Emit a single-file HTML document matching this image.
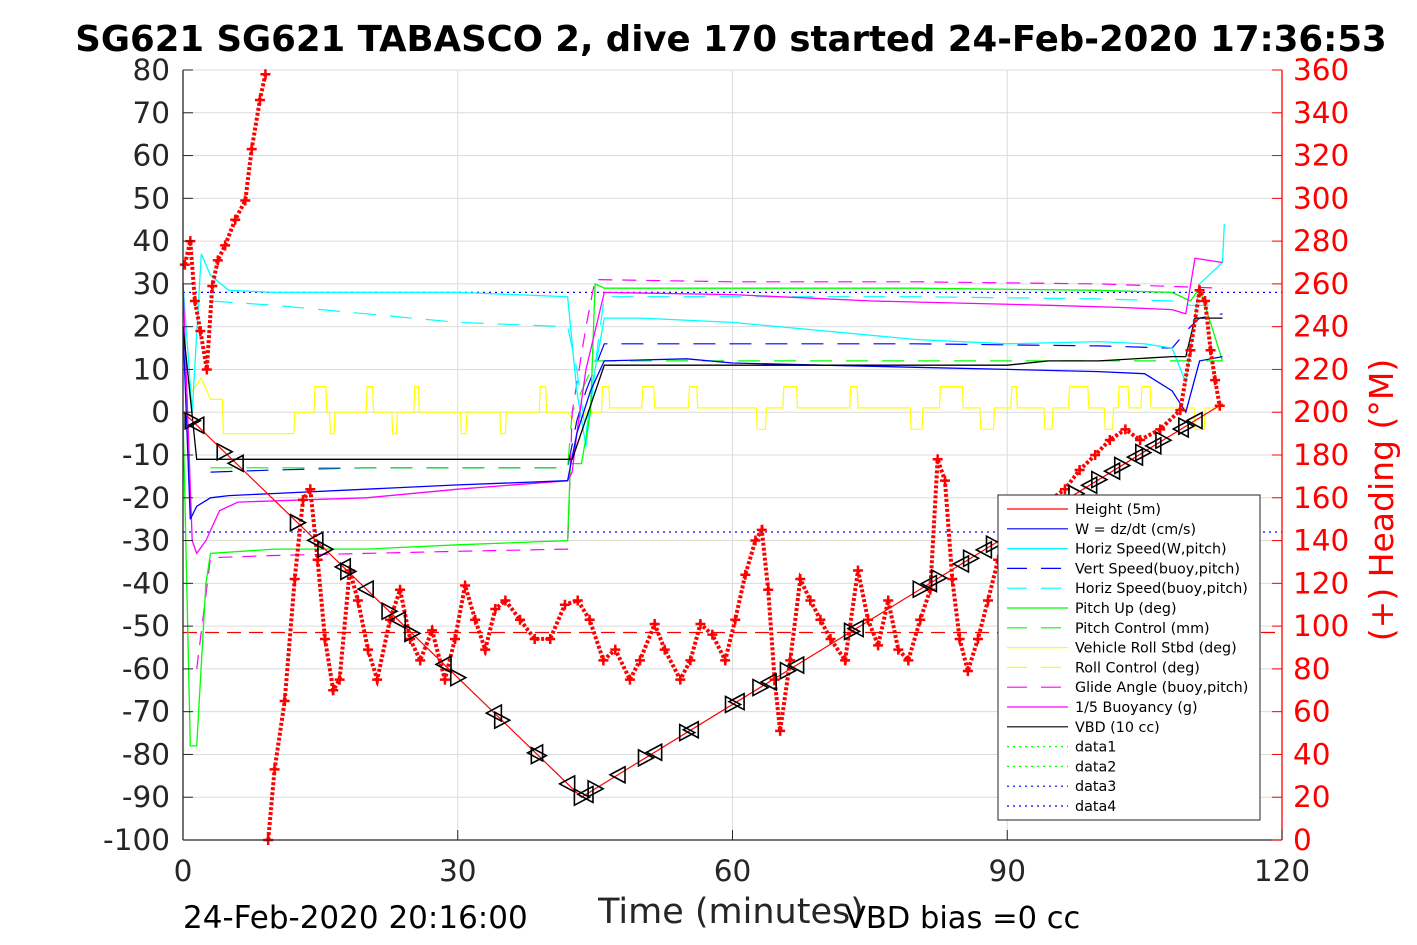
<!DOCTYPE html>
<html><head><meta charset="utf-8"><style>
body{margin:0;background:#fff;}
svg{display:block;font-family:"DejaVu Sans","Liberation Sans",sans-serif;}
</style></head><body>
<svg id="chart" width="1417" height="945" viewBox="0 0 1417 945">
<rect width="1417" height="945" fill="#fff"/>
<text x="731" y="51" text-anchor="middle" font-size="35.5" font-weight="bold" fill="#000">SG621 SG621 TABASCO 2, dive 170 started 24-Feb-2020 17:36:53</text>
<g id="grid"></g>
<g id="series"></g>
<g id="axes"></g>
<g id="legend"></g>
<text x="731" y="923" text-anchor="middle" font-size="35" fill="#262626">Time (minutes)</text>
<text x="183" y="928" font-size="31" fill="#000">24-Feb-2020 20:16:00</text>
<text x="845" y="928" font-size="30.5" fill="#000">VBD bias =0 cc</text>
<text transform="translate(1393,500) rotate(-90)" text-anchor="middle" font-size="33" fill="#f00">(+) Heading (°M)</text>
</svg>
<script>
const xTicks=[0,30,60,90,120];
const yTicks=[80,70,60,50,40,30,20,10,0,-10,-20,-30,-40,-50,-60,-70,-80,-90,-100];
const rTicks=[360,340,320,300,280,260,240,220,200,180,160,140,120,100,80,60,40,20,0];

const depthT=[0,1,43.5,113.5];
const depthV=[0,-2,-90,2];
const triT=[1,1.5,4.5,5.8,12.5,14.5,15.5,17.5,18,20,22.5,23.5,25,28.5,30,34,34.8,38.5,38.8,42,43.5,44,45,47.5,50.5,51.5,55,55.5,60,60.5,63,64,66,67,73,73.5,80.5,81.5,82.5,85,86,87.5,88.5,90,92,94,97.5,99,100,101.5,102.5,104,104.8,106,107,109,109.5,110.5];

const wT=[0,0.8,1.5,3,5,10,20,30,42,43,44.5,46,55,60,70,80,90,100,105,108,109.5,111,113.5];
const wV=[20,-25,-22,-20,-19.5,-19,-18,-17,-16,-5,5,12,12.5,11.5,11,10.5,10,9.5,9,5,0,12,13];
const hsT=[0,1,2,3,5,10,20,30,42,43,44,45,46,50,60,70,80,90,100,105,108,109.5,111,113.5,113.7];
const hsV=[30,0,37,32,28.5,28,28,28,27,5,-8,10,22,22,21,19,17,16,16.5,16,15,7,30,35,44];
const vbT=[3,10,20,30,42,43,44,46,60,80,100,108,110,111,113.5];
const vbV=[-14,-13.5,-13,-13,-13,-2,5,16,16,16,15.5,15,20,22,23];
const hbT=[3,10,20,30,42,43,44,46,60,80,100,108,110,113.5];
const hbV=[26,25,23,21,20,10,-5,27,27,27,26.5,26,25,25];
const pT=[0,0.8,1.5,2.5,3,10,20,30,42,42.3,43.5,44.5,45,46,60,80,100,108,110,111,113.5];
const pV=[0,-78,-78,-40,-33,-32,-32,-31,-30,-12,-12,0,30,29,29,29,28.5,28,26,29,12];
const pcT=[3,42,42.5,45,113.5];
const pcV=[-13,-13,0,12,12];
const yelT=[0,1,2,3,4.3,4.4,12.1,12.2,14.3,14.4,15.6,15.7,16,16.1,16.5,16.6,20,20.1,20.7,20.8,22.8,22.9,23.3,23.4,25.2,25.3,25.7,25.8,30.3,30.4,30.9,31,34.6,34.7,35.2,35.3,38.9,39,39.6,39.7,42,43,44,45.7,45.8,46.5,46.6,50.1,50.2,51.4,51.5,55.2,55.3,56.1,56.2,62.6,62.7,63.6,63.7,65.5,65.6,67,67.1,72.8,72.9,73.6,73.7,79.4,79.5,80.7,80.8,82.6,82.7,85.1,85.2,87,87.1,88.5,88.6,90.4,90.5,91,91.1,94,94.1,94.9,95,96.7,96.8,98.8,98.9,100.6,100.7,101.5,101.6,102.1,102.2,103.2,103.3,104.6,104.7,105.6,105.7,110.4,110.5,111.5,111.6,113.5];
const yelV=[10,5,8,3,3,-5,-5,0,0,6,6,0,0,-5,-5,0,0,6,6,0,0,-5,-5,0,0,6,6,0,0,-5,-5,0,0,-5,-5,0,0,6,6,0,0,-3,0,0,6,6,1,1,6,6,1,1,6,6,1,1,-4,-4,1,1,6,6,1,1,6,6,1,1,-4,-4,1,1,6,6,1,1,-4,-4,1,1,6,6,1,1,-4,-4,1,1,6,6,1,1,-4,-4,1,1,6,6,1,1,6,6,1,1,-4,-4,1,1,6,6,1,1,6,6,1,-2];
const buT=[0,1,1.5,2.5,4,6,20,30,42,42.5,43,44,46,60,75.3,94.5,102.2,108,109.5,110.5,113.5];
const buV=[30,-30,-33,-30,-23,-21,-20,-18,-16,-14,-5,10,28,27.5,26,25,24.5,24,23,36,35];
const gaT=[1.5,3,10,20,30,42,42.5,44,45,60,80,100,113.5];
const gaV=[-60,-34,-33.5,-33,-32.5,-32,0,20,31,30.5,30.5,30,29];
const vbdT=[0,1.5,42.5,46,60,90,94.5,100,108,109.5,110.5,113.5];
const vbdV=[20,-11,-11,11,11,11,12,12,13,13,22,22];
const refLines=[{v:28,c:'#00f',d:'2 4',n:'data3-line'},{v:-28,c:'#00f',d:'2 4',n:'data4-line'},{v:-51.5,c:'#f00',d:'14 8',n:'reference-dashed-line'}];

const headT=[0.2,0.8,1.3,1.9,2.6,3.2,3.8,4.6,5.7,6.8,7.5,8.4,9.0,9.3,10,11.1,12.2,13.1,13.9,14.7,15.5,16.4,17.1,18.2,19.1,20.2,21.2,22.6,23.7,24.8,25.9,27.2,28.6,29.7,30.8,31.9,33,34.1,35.2,36.8,38.4,40.1,41.7,43.1,44.4,45.9,47.2,48.8,49.9,51.5,52.6,54.3,55.4,56.5,57.8,59.2,60.3,61.4,62.5,63.2,63.9,64.6,65.2,66.3,67.4,68.5,69.6,70.7,72.3,73.7,74.8,75.9,77,78.1,79.2,80.5,81.6,82.4,83.2,84,84.8,85.7,86.8,87.9,89,90.3,91.4,93,94.7,96.3,97.9,99.6,101.2,102.9,104.5,106.7,108.9,110,111,111.6,112.2,112.7,113.2];
const headV=[269,280,252,238,220,259,271,278,290,299,323,346,358,0,33,65,122,159,164,131,94,70,75,126,112,89,75,103,117,94,84,98,75,94,119,103,89,108,112,103,94,94,110,112,103,84,89,75,84,101,89,75,84,101,96,84,103,124,140,145,117,75,51,84,122,112,103,94,84,126,103,91,112,89,84,103,117,178,168,122,94,79,94,112,131,122,150,154,159,164,173,180,187,192,187,192,201,229,257,252,229,215,203];

const NS='http://www.w3.org/2000/svg';
const X0=183,X1=1282,YT=70,YB=840;
const xs=t=>X0+(t/120)*(X1-X0);
const yl=v=>YB-((v+100)/180)*(YB-YT);
const yr=h=>YB-(h/360)*(YB-YT);
function el(tag,attrs,parent){const e=document.createElementNS(NS,tag);for(const k in attrs)e.setAttribute(k,attrs[k]);parent.appendChild(e);return e;}
const grid=document.getElementById('grid'),ser=document.getElementById('series'),axes=document.getElementById('axes'),leg=document.getElementById('legend');

xTicks.forEach(t=>{if(t>0&&t<120){const g=el('line',{x1:xs(t),x2:xs(t),y1:YT,y2:YB,stroke:'#dcdcdc','stroke-width':1},grid);}});
yTicks.forEach(v=>{const g=el('line',{x1:X0,x2:X1,y1:yl(v),y2:yl(v),stroke:'#dcdcdc','stroke-width':1},grid);});

function line(T,V,color,dash,name,w){
  let d='';T.forEach((t,i)=>{d+=(i?'L':'M')+xs(t).toFixed(1)+','+yl(V[i]).toFixed(1);});
  const p=el('path',{d:d,fill:'none',stroke:color,'stroke-width':w||1.2,'stroke-dasharray':dash||'none'},ser);
  
  
}
refLines.forEach(r=>line([0,120],[r.v,r.v],r.c,r.d,r.n,1.3));
line(yelT,yelV,'#ff0','','vehicle-roll-line',1.2);
line(hbT,hbV,'#0ff','22 14','horiz-speed-buoy-line',1.2);
line(vbT,vbV,'#00f','22 14','vert-speed-buoy-line',1.2);
line(pcT,pcV,'#0f0','22 14','pitch-control-line',1.2);
line(gaT,gaV,'#f0f','14 10','glide-angle-line',1.2);
line(hsT,hsV,'#0ff','','horiz-speed-w-line',1.3);
line(pT,pV,'#0f0','','pitch-up-line',1.3);
line(buT,buV,'#f0f','','buoyancy-line',1.3);
line(wT,wV,'#00f','','w-line',1.3);
line(vbdT,vbdV,'#000','','vbd-line',1.3);
line(depthT,depthV,'#f00','','height-line',1.2);

let hd='';headT.forEach((t,i)=>{const jump=i>0&&Math.abs(headV[i]-headV[i-1])>180;hd+=((i===0||jump)?'M':'L')+xs(t).toFixed(1)+','+yr(headV[i]).toFixed(1);});
const hp=el('path',{d:hd,fill:'none',stroke:'#f00','stroke-width':4,'stroke-dasharray':'3 2'},ser);


headT.forEach((t,i)=>{const x=xs(t),y=yr(headV[i]);
  const m=el('path',{d:`M${x-5},${y}h10M${x},${y-5}v10`,stroke:'#f00','stroke-width':2.5},ser);
  
  
});

function depthAt(t){for(let i=1;i<depthT.length;i++){if(t<=depthT[i]){const f=(t-depthT[i-1])/(depthT[i]-depthT[i-1]);return depthV[i-1]+f*(depthV[i]-depthV[i-1]);}}return depthV[depthV.length-1];}
triT.forEach((t,i)=>{const x=xs(t),y=yl(depthAt(t));
  const pts=(i%2===0)?`${x-7},${y-8} ${x-7},${y+8} ${x+8},${y}`:`${x+7},${y-8} ${x+7},${y+8} ${x-8},${y}`;
  const tr=el('polygon',{points:pts,fill:'none',stroke:'#000','stroke-width':1.6},ser);
  
  
});

const axl=el('line',{x1:X0,x2:X0,y1:YT,y2:YB,stroke:'#262626','stroke-width':1.3},axes);
const axb=el('line',{x1:X0,x2:X1,y1:YB,y2:YB,stroke:'#262626','stroke-width':1.3},axes);
const axr=el('line',{x1:X1,x2:X1,y1:YT,y2:YB,stroke:'#f00','stroke-width':1.3},axes);
xTicks.forEach(t=>{el('line',{x1:xs(t),x2:xs(t),y1:YB,y2:YB-10,stroke:'#262626'},axes);
  const tx=el('text',{x:xs(t),y:881,'text-anchor':'middle','font-size':29.5,fill:'#262626'},axes);tx.textContent=t;
  });
yTicks.forEach(v=>{el('line',{x1:X0,x2:X0+10,y1:yl(v),y2:yl(v),stroke:'#262626'},axes);
  const tx=el('text',{x:170,y:yl(v)+10,'text-anchor':'end','font-size':29.5,fill:'#262626'},axes);tx.textContent=v;
  });
rTicks.forEach(h=>{el('line',{x1:X1,x2:X1-10,y1:yr(h),y2:yr(h),stroke:'#f00'},axes);
  const tx=el('text',{x:1293,y:yr(h)+10,'font-size':29.5,fill:'#f00'},axes);tx.textContent=h;
  });

const legItems=[['Height (5m)','#f00',''],['W = dz/dt (cm/s)','#00f',''],['Horiz Speed(W,pitch)','#0ff',''],['Vert Speed(buoy,pitch)','#00f','20 14'],['Horiz Speed(buoy,pitch)','#0ff','20 14'],['Pitch Up (deg)','#0f0',''],['Pitch Control (mm)','#0f0','20 14'],['Vehicle Roll Stbd (deg)','#ff0',''],['Roll Control (deg)','#ff0','20 14'],['Glide Angle (buoy,pitch)','#f0f','20 14'],['1/5 Buoyancy (g)','#f0f',''],['VBD (10 cc)','#000',''],['data1','#0f0','2 4'],['data2','#0f0','2 4'],['data3','#00f','2 4'],['data4','#00f','2 4']];
const lb=el('rect',{x:998,y:495,width:262,height:325,fill:'#fff',stroke:'#262626','stroke-width':1},leg);

legItems.forEach((it,i)=>{const y=509+i*19.8;
  const g=el('g',{},leg);
  
  
  el('line',{x1:1007,x2:1068,y1:y,y2:y,stroke:it[1],'stroke-width':1.2,'stroke-dasharray':it[2]||'none'},g);
  const tx=el('text',{x:1075,y:y+5,'font-size':14.3,fill:'#000'},g);tx.textContent=it[0];
});
</script>
</body></html>
